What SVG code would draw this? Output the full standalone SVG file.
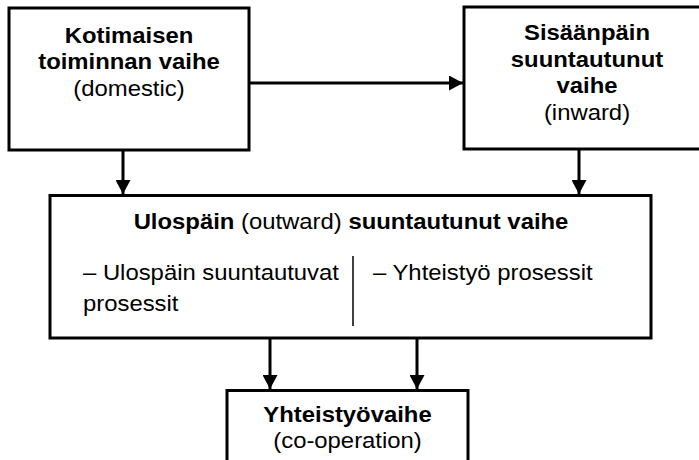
<svg xmlns="http://www.w3.org/2000/svg" width="699" height="460" viewBox="0 0 699 460">
  <style>
    .box { fill: #ffffff; stroke: #000000; stroke-width: 3; }
    .link { fill: none; stroke: #000000; stroke-width: 3; }
    .sep { fill: none; stroke: #000000; stroke-width: 1.5; }
    text { font-family: "Liberation Sans", Arial, sans-serif; font-size: 22px; fill: #000000; }
    .b { font-weight: bold; }
    .c { text-anchor: middle; }
  </style>
  <defs>
    <marker id="arrow" viewBox="0 0 14 15" refX="14" refY="7.5" markerWidth="14" markerHeight="15" markerUnits="userSpaceOnUse" orient="auto">
      <path d="M0,0 L14,7.5 L0,15 Z" fill="#000000"/>
    </marker>
  </defs>

  <rect x="0" y="0" width="699" height="460" fill="#ffffff"/>

  <!-- connectors -->
  <g id="connectors">
    <line class="link" x1="249" y1="83" x2="463" y2="83" marker-end="url(#arrow)"/>
    <line class="link" x1="123" y1="150" x2="123" y2="194" marker-end="url(#arrow)"/>
    <line class="link" x1="579" y1="149" x2="579" y2="194" marker-end="url(#arrow)"/>
    <line class="link" x1="270" y1="338" x2="270" y2="389" marker-end="url(#arrow)"/>
    <line class="link" x1="417" y1="338" x2="417" y2="389" marker-end="url(#arrow)"/>
  </g>

  <!-- domestic phase -->
  <g id="domestic">
    <rect class="box" x="9" y="8" width="240" height="142"/>
    <g transform="translate(129,0) scale(1.085,1)">
      <text class="b c" x="0" y="43">Kotimaisen</text>
      <text class="b c" x="0" y="69.5">toiminnan vaihe</text>
      <text class="c" x="0" y="96">(domestic)</text>
    </g>
  </g>

  <!-- inward phase -->
  <g id="inward">
    <rect class="box" x="464" y="7" width="246" height="142"/>
    <g transform="translate(587,0) scale(1.085,1)">
      <text class="b c" x="0" y="40.5">Sisäänpäin</text>
      <text class="b c" x="0" y="67">suuntautunut</text>
      <text class="b c" x="0" y="93.5">vaihe</text>
      <text class="c" x="0" y="120">(inward)</text>
    </g>
  </g>

  <!-- outward phase -->
  <g id="outward">
    <rect class="box" x="50" y="195.5" width="601" height="142.5"/>
    <g transform="translate(351,0) scale(1.085,1)">
      <text class="c" x="0" y="229.5"><tspan class="b">Ulospäin</tspan> (outward) <tspan class="b">suuntautunut vaihe</tspan></text>
    </g>
    <g transform="translate(83,0) scale(1.085,1)">
      <text x="0" y="280">– Ulospäin suuntautuvat</text>
      <text x="0" y="311">prosessit</text>
    </g>
    <line class="sep" x1="353" y1="256" x2="353" y2="326"/>
    <g transform="translate(373,0) scale(1.085,1)">
      <text x="0" y="280">– Yhteistyö prosessit</text>
    </g>
  </g>

  <!-- co-operation phase -->
  <g id="cooperation">
    <rect class="box" x="227" y="390.5" width="241" height="90"/>
    <g transform="translate(347.5,0) scale(1.085,1)">
      <text class="b c" x="0" y="422.5">Yhteistyövaihe</text>
      <text class="c" x="0" y="448">(co-operation)</text>
    </g>
  </g>
</svg>
